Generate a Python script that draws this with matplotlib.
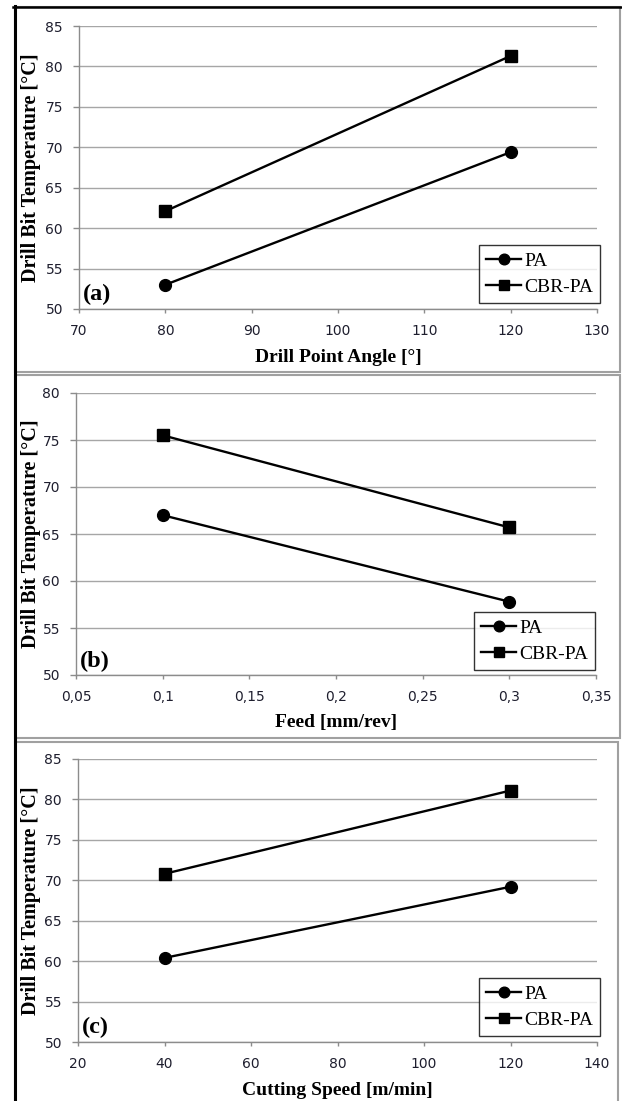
import matplotlib
matplotlib.use('Agg')
import matplotlib.pyplot as plt
from matplotlib.patches import Rectangle
from matplotlib.lines import Line2D

plt.rcParams['font.family'] = ['DejaVu Sans']

# 数据
angle = [80, 120]
angle_pa = [53.0, 69.4]
angle_cbr = [62.1, 81.3]

feed = [0.1, 0.3]
feed_pa = [67.0, 57.8]
feed_cbr = [75.5, 65.7]

speed = [40, 120]
speed_pa = [60.4, 69.2]
speed_cbr = [70.8, 81.1]

angle_ticks = [70, 80, 90, 100, 110, 120, 130]
feed_ticks = [0.05, 0.1, 0.15, 0.2, 0.25, 0.3, 0.35]
feed_ticklabels = ['0,05', '0,1', '0,15', '0,2', '0,25', '0,3', '0,35']
speed_ticks = [20, 40, 60, 80, 100, 120, 140]
yticks_a = [50, 55, 60, 65, 70, 75, 80, 85]
yticks_b = [50, 55, 60, 65, 70, 75, 80]

W, H = 622, 1101
fig = plt.figure(figsize=(W / 100, H / 100), dpi=100)

def px_box(left, right, top, bottom):
    return [left / W, 1 - bottom / H, (right - left) / W, (bottom - top) / H]

serif = 'Liberation Serif'
grid_c = '#a6a6a6'
axis_c = '#8c8c8c'
tick_c = '#1e1e2e'

# 面板边框
for top, bottom, right in [(7, 372, 620), (375, 738, 620), (742, 1110, 618)]:
    fig.add_artist(Rectangle((15 / W, 1 - bottom / H), (right - 15) / W, (bottom - top) / H,
                             transform=fig.transFigure, fill=False, edgecolor='#a0a0a0', linewidth=1.5))
fig.add_artist(Line2D([14.5 / W, 14.5 / W], [0, 1 - 6 / H], transform=fig.transFigure,
                      color='black', linewidth=2.2))
fig.add_artist(Line2D([13 / W, 621 / W], [1 - 7 / H, 1 - 7 / H], transform=fig.transFigure,
                      color='black', linewidth=1.8))

panels = [
    dict(box=px_box(79, 597, 26, 309), x=angle, pa=angle_pa, cbr=angle_cbr,
         xlim=(70, 130), ylim=(50, 85), xt=angle_ticks, xtl=[str(t) for t in angle_ticks],
         yt=yticks_a, xlabel='Drill Point Angle [°]', tag='(a)', ylx=(31 - 79) / 518,
         leg=((600 - 79) / 518, (309 - 303) / 283)),
    dict(box=px_box(76, 596, 393, 675), x=feed, pa=feed_pa, cbr=feed_cbr,
         xlim=(0.05, 0.35), ylim=(50, 80), xt=feed_ticks, xtl=feed_ticklabels,
         yt=yticks_b, xlabel='Feed [mm/rev]', tag='(b)', ylx=(31 - 76) / 520,
         leg=((595 - 76) / 520, (675 - 670) / 282)),
    dict(box=px_box(78, 597, 759, 1042), x=speed, pa=speed_pa, cbr=speed_cbr,
         xlim=(20, 140), ylim=(50, 85), xt=speed_ticks, xtl=[str(t) for t in speed_ticks],
         yt=yticks_a, xlabel='Cutting Speed [m/min]', tag='(c)', ylx=(31 - 78) / 519,
         leg=((600 - 78) / 519, (1042 - 1036) / 283)),
]

for p in panels:
    ax = fig.add_axes(p['box'])
    ax.plot(p['x'], p['pa'], '-o', color='black', linewidth=1.7, markersize=8.5, label='PA', zorder=3)
    ax.plot(p['x'], p['cbr'], '-s', color='black', linewidth=1.7, markersize=8, label='CBR-PA', zorder=3)
    ax.set_xlim(*p['xlim'])
    ax.set_ylim(*p['ylim'])
    ax.set_xticks(p['xt'])
    ax.set_xticklabels(p['xtl'])
    ax.set_yticks(p['yt'])
    ax.grid(True, axis='y', color=grid_c, linewidth=1)
    ax.set_axisbelow(True)
    for s in ['top', 'right']:
        ax.spines[s].set_visible(False)
    for s in ['left', 'bottom']:
        ax.spines[s].set_color(axis_c)
        ax.spines[s].set_linewidth(1)
    ax.tick_params(axis='x', direction='out', length=3, width=1, color=axis_c,
                   pad=8, labelsize=10, labelcolor=tick_c)
    ax.tick_params(axis='y', direction='out', length=4.5, width=1, color=axis_c,
                   pad=7, labelsize=10, labelcolor=tick_c)

    ax.set_xlabel(p['xlabel'], family=serif, fontweight='bold', fontsize=14, va='center')
    ax.xaxis.set_label_coords(0.5, -0.17)
    ax.set_ylabel('Drill Bit Temperature [°C]', family=serif, fontweight='bold', fontsize=14.5,
                  va='center')
    ax.yaxis.set_label_coords(p['ylx'], 0.5)

    ax.text(0.007, 0.03, p['tag'], transform=ax.transAxes, family=serif, fontweight='bold',
            fontsize=17.5, ha='left', va='baseline')

    leg = ax.legend(loc='lower right', bbox_to_anchor=p['leg'], frameon=True, fancybox=False,
                    prop={'family': serif, 'size': 14}, handlelength=1.8, handletextpad=0.15,
                    borderpad=0.35, labelspacing=0.45, borderaxespad=0, markerscale=0.9)
    leg.get_frame().set_edgecolor('black')
    leg.get_frame().set_linewidth(1)
    leg.set_zorder(5)

plt.savefig('out.png', dpi=100)
